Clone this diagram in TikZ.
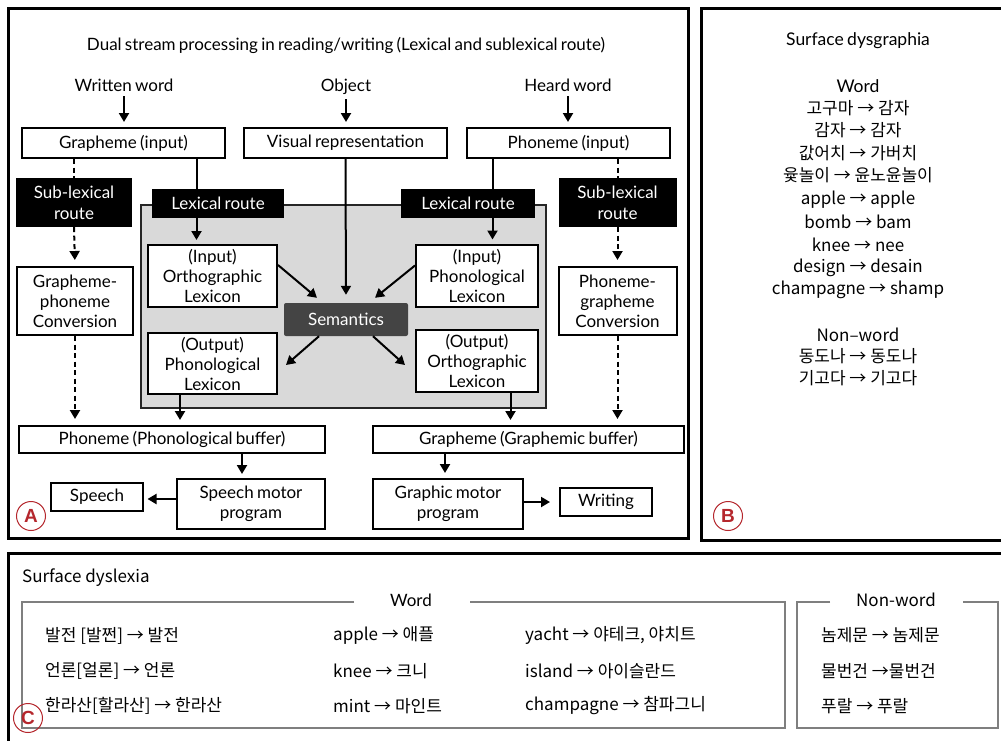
\documentclass[tikz,border=0pt]{standalone}
\usepackage{fontspec}
\setmainfont{Lato}[WordSpace=0.75]
\newfontfamily\kr{Noto Sans CJK KR}
\newfontfamily\circfont{Liberation Sans}
\usetikzlibrary{arrows.meta}
\definecolor{redc}{HTML}{B5272D}
\definecolor{grayfill}{HTML}{D9D9D9}
\definecolor{semfill}{HTML}{444444}
\definecolor{gline}{HTML}{7F7F7F}
\newcommand\fsA{\fontsize{17}{20}\selectfont}
\newcommand\fsK{\kr\fontsize{17}{20}\selectfont}
\newcommand\fsCirc{\circfont\bfseries\fontsize{19}{19}\selectfont}
\tikzset{
 abox/.style={draw, line width=2pt, fill=white, inner sep=0pt, align=center, font=\fsA},
 blk/.style={fill=black, text=white, inner sep=0pt, align=center, font=\fsA},
 arr/.style={line width=2pt, -{Triangle[length=9pt,width=10pt]}},
 ln/.style={line width=2pt},
 dsh/.style={line width=2pt, dash pattern=on 5pt off 3.5pt},
 dsharr/.style={dsh, -{Triangle[length=9pt,width=10pt]}},
 lab/.style={font=\fsA, inner sep=1pt},
 klab/.style={font=\fsK, inner sep=0pt},
 circ/.style={draw=redc, line width=1pt, circle, minimum size=29pt, inner sep=0pt, text=redc, font=\fsCirc},
 frame/.style={line width=3pt},
 grp/.style={draw=gline, line width=1.8pt},
}
\begin{document}
\begin{tikzpicture}[x=1pt,y=-1pt]
\useasboundingbox (0,0) rectangle (1001,740);
\fill[white] (0,0) rectangle (1001,740);
% frames
\draw[frame] (8,8) rectangle (688,538);
\draw[frame] (701,8) rectangle (1012,540);
\draw[frame] (8,553) rectangle (1012,752);

% ===== Panel A =====
\node[lab] (title) at (346,45) {Dual stream processing in reading/writing (Lexical and sublexical route)};
\node[lab, anchor=base] (ww) at (124,91) {Written word};
\node[lab, anchor=base] (obj) at (346,91) {Object};
\node[lab, anchor=base] (hw) at (568,91) {Heard word};

\node[abox, minimum width=203pt, minimum height=30pt] (gin) at (123.5,143) {Grapheme (input)};
\node[abox, minimum width=203pt, minimum height=30pt] (vis) at (345.5,143) {Visual representation};
\node[abox, minimum width=203pt, minimum height=30pt] (pin) at (568.5,143) {Phoneme (input)};

\node[draw=black!85, line width=1.5pt, fill=grayfill, minimum width=405pt, minimum height=203pt, inner sep=0pt] (lex) at (343.5,306.5) {};

\node[blk, minimum width=116pt, minimum height=49pt] (subL) at (74,202.5) {Sub-lexical\\[1pt]route};
\node[blk, minimum width=118pt, minimum height=49pt] (subR) at (617.5,202.5) {Sub-lexical\\[1pt]route};
\node[blk, minimum width=132pt, minimum height=29pt] (lexL) at (218,203.5) {Lexical route};
\node[blk, minimum width=134pt, minimum height=29pt] (lexR) at (468,203.5) {Lexical route};

\node[abox, minimum width=129pt, minimum height=62pt] (iortho) at (212.5,276) {(Input)\\Orthographic\\Lexicon};
\node[abox, minimum width=122pt, minimum height=62pt] (iphon) at (477,275.5) {(Input)\\Phonological\\Lexicon};
\node[fill=semfill, rounded corners=2pt, text=white, font=\fsA, minimum width=124pt, minimum height=33pt, inner sep=0pt] (sem) at (346,319.5) {Semantics};
\node[abox, minimum width=129pt, minimum height=61pt] (ophon) at (212.5,363.5) {(Output)\\Phonological\\Lexicon};
\node[abox, minimum width=122pt, minimum height=62pt] (oortho) at (477,361) {(Output)\\Orthographic\\Lexicon};

\node[abox, minimum width=116pt, minimum height=68pt] (gpc) at (75,301) {Grapheme-\\phoneme\\Conversion};
\node[abox, minimum width=118pt, minimum height=68pt] (pgc) at (617.5,301) {Phoneme-\\grapheme\\Conversion};

\node[abox, minimum width=306pt, minimum height=27pt] (pbuf) at (172,439.5) {Phoneme (Phonological buffer)};
\node[abox, minimum width=311pt, minimum height=27pt] (gbuf) at (528.5,439.5) {Grapheme (Graphemic buffer)};
\node[abox, minimum width=148pt, minimum height=50pt] (smp) at (251,504) {Speech motor\\program};
\node[abox, minimum width=92pt, minimum height=28pt] (sp) at (97,497) {Speech};
\node[abox, minimum width=150pt, minimum height=50pt] (gmp) at (448,504) {Graphic motor\\program};
\node[abox, minimum width=92pt, minimum height=28pt] (wr) at (606,502) {Writing};

\coordinate (cxL) at (196.5,0);
\coordinate (cxR) at (492.5,0);
\coordinate (cxO1) at (180,0);
\coordinate (cxO2) at (510.5,0);
\coordinate (cxB1) at (242,0);
\coordinate (cxB2) at (445,0);

% connectors
\draw[arr, shorten <=4pt, shorten >=5pt] (ww.south) -- (ww |- gin.north);
\draw[arr, shorten <=4pt, shorten >=5pt] (obj.south) -- (obj |- vis.north);
\draw[arr, shorten <=4pt, shorten >=5pt] (hw.south) -- (hw |- pin.north);

\draw[dsh] (gin.south -| subL) -- (subL.north);
\draw[dsh] (pin.south -| subR) -- (subR.north);
\draw[dsharr, shorten >=6pt] (subL.south) -- (gpc.north);
\draw[dsharr, shorten >=6pt] (subR.south) -- (pgc.north);
\draw[dsharr, shorten >=6pt] (gpc.south) -- (gpc.south |- pbuf.north);
\draw[dsharr, shorten >=6pt] (pgc.south) -- (pgc.south |- gbuf.north);

\draw[ln] (gin.south -| cxL) -- (lexL.north -| cxL);
\draw[ln] (pin.south -| cxR) -- (lexR.north -| cxR);
\draw[arr, shorten >=4pt] (lexL.south -| cxL) -- (iortho.north -| cxL);
\draw[arr, shorten >=4pt] (lexR.south -| cxR) -- (iphon.north -| cxR);
\draw[arr, shorten >=8pt] (vis.south) -- (sem.north);

\draw[arr] ([yshift=11pt]iortho.east) -- ([xshift=-29pt,yshift=5pt]sem.north);
\draw[arr] ([yshift=10pt]iphon.west) -- ([xshift=29pt,yshift=5pt]sem.north);
\draw[arr] ([xshift=-27pt]sem.south) -- ([xshift=8pt,yshift=-1.5pt]ophon.east);
\draw[arr] ([xshift=27pt]sem.south) -- ([xshift=-10pt,yshift=-4pt]oortho.west);

\draw[arr, shorten >=5pt] (ophon.south -| cxO1) -- (pbuf.north -| cxO1);
\draw[arr, shorten >=5pt] (oortho.south -| cxO2) -- (gbuf.north -| cxO2);
\draw[arr, shorten >=4pt] (pbuf.south -| cxB1) -- (smp.north -| cxB1);
\draw[arr, shorten >=5pt] (gbuf.south -| cxB2) -- (gmp.north -| cxB2);
\draw[arr, shorten >=3.5pt] ([yshift=5pt]smp.west) -- ([yshift=5pt]smp.west -| sp.east);
\draw[arr, shorten >=9pt] ([yshift=2pt]gmp.east) -- ([yshift=2pt]gmp.east -| wr.west);

\node[circ] (cA) at (31,516) {A};

% ===== Panel B =====
\node[lab, font=\fontsize{17.5}{20}\selectfont] (btitle) at (858,41) {Surface dysgraphia};
\node[lab, font=\fontsize{17.5}{20}\selectfont] (bword) at (858,86) {Word};
\node[klab] (b1) at (858,108) {고구마 → 감자};
\node[klab] (b2) at (858,130.5) {감자 → 감자};
\node[klab] (b3) at (858,153) {값어치 → 가버치};
\node[klab] (b4) at (858,175.5) {윷놀이 → 윤노윤놀이};
\node[klab] (b5) at (858,199.5) {apple → apple};
\node[klab] (b6) at (858,221.5) {bomb → bam};
\node[klab] (b7) at (858,244.5) {knee → nee};
\node[klab] (b8) at (858,267.5) {design → desain};
\node[klab] (b9) at (858,289.5) {champagne → shamp};
\node[klab] (bnw) at (858,334.5) {Non–word};
\node[klab] (b10) at (858,356.5) {동도나 → 동도나};
\node[klab] (b11) at (858,378.5) {기고다 → 기고다};
\node[circ] (cB) at (728,516) {B};

% ===== Panel C =====
\node[klab, anchor=west] (ctitle) at (22,578) {Surface dyslexia};
\draw[grp] (354,602) -- (22,602) -- (22,728) -- (785,728) -- (785,602) -- (470,602);
\node[lab, font=\fontsize{17}{20}\selectfont] (cword) at (411,600) {Word};
\draw[grp] (830,602) -- (797,602) -- (797,728) -- (998,728) -- (998,602) -- (963,602);
\node[klab] (cnw) at (896,600) {Non-word};

\node[klab, anchor=west] (c11) at (45,635.5) {발전 [발쩐] → 발전};
\node[klab, anchor=west] (c12) at (45,671) {언론[얼론] → 언론};
\node[klab, anchor=west] (c13) at (45,706) {한라산[할라산] → 한라산};
\node[klab, anchor=west] (c21) at (333,635.5) {apple → 애플};
\node[klab, anchor=west] (c22) at (333,671) {knee → 크니};
\node[klab, anchor=west] (c23) at (333,706) {mint → 마인트};
\node[klab, anchor=west] (c31) at (525,635.5) {yacht → 야테크, 야치트};
\node[klab, anchor=west] (c32) at (525,671) {island → 아이슬란드};
\node[klab, anchor=west] (c33) at (525,706) {champagne → 참파그니};
\node[klab, anchor=west] (c41) at (821,635.5) {놈제문 → 놈제문};
\node[klab, anchor=west] (c42) at (821,671) {물번건 →물번건};
\node[klab, anchor=west] (c43) at (821,706) {푸랄 → 푸랄};
\node[circ] (cC) at (28,718) {C};
\end{tikzpicture}
\end{document}
